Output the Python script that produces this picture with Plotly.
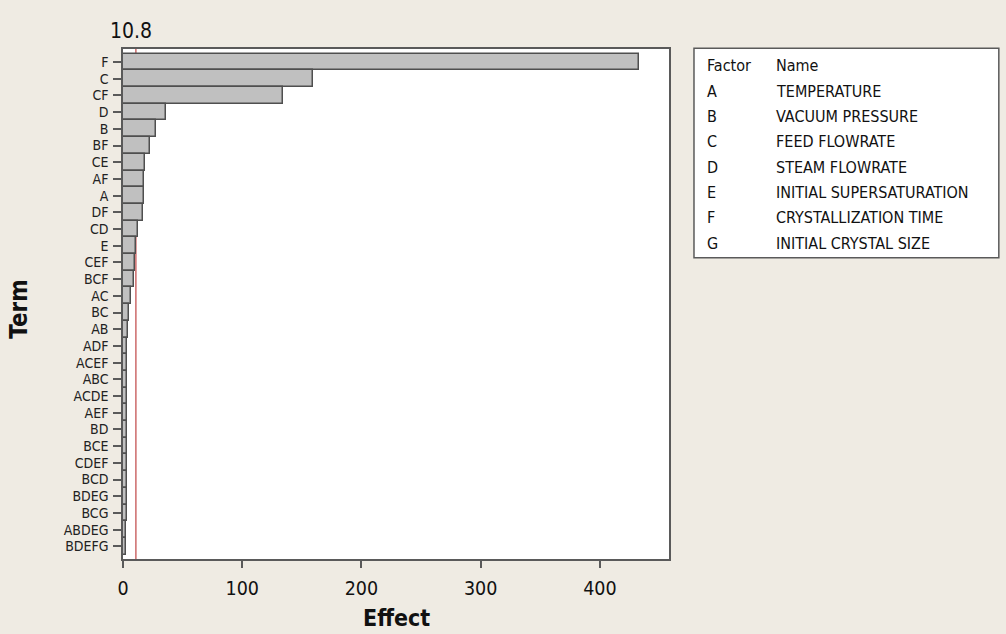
import plotly.graph_objects as go

# ---- data ----
terms = ["F", "C", "CF", "D", "B", "BF", "CE", "AF", "A", "DF", "CD", "E", "CEF", "BCF",
         "AC", "BC", "AB", "ADF", "ACEF", "ABC", "ACDE", "AEF", "BD", "BCE", "CDEF", "BCD",
         "BDEG", "BCG", "ABDEG", "BDEFG"]
effects = [433.2, 159.0, 133.8, 36.1, 27.6, 22.9, 18.2, 17.8, 17.5, 17.1, 12.8, 11.0, 10.1, 8.9,
           6.7, 5.3, 3.9, 3.7, 3.6, 3.5, 3.4, 3.4, 3.3, 3.2, 3.1, 3.1, 3.0, 3.0, 2.9, 2.9]
reference_value = 10.8
x_ticks = [0, 100, 200, 300, 400]

factors = ["A", "B", "C", "D", "E", "F", "G"]
factor_names = ["TEMPERATURE", "VACUUM PRESSURE", "FEED FLOWRATE", "STEAM FLOWRATE",
                "INITIAL SUPERSATURATION", "CRYSTALLIZATION TIME", "INITIAL CRYSTAL SIZE"]

# ---- layout geometry (pixels) ----
W, H = 1006, 634
L, R, T, B = 122.7, 669.0, 49.0, 559.0

def px(xp):
    return (xp - L) / (R - L)

def py(yp):
    return (B - yp) / (B - T)

FONT = "DejaVu Sans Condensed, DejaVu Sans, sans-serif"
BG = "#efebe3"
FRAME = "#5a5a5a"
TXT = "#111111"

fig = go.Figure()
fig.add_trace(go.Bar(
    x=effects, y=terms, orientation="h",
    width=1.0,
    marker=dict(color="#c0c0c0", line=dict(color="#4f4f4f", width=1.5)),
    hoverinfo="x+y",
))

fig.add_shape(type="line", xref="x", yref="paper", x0=reference_value, x1=reference_value,
              y0=0, y1=1, line=dict(color="#cc6a6a", width=1.5), layer="below")

annotations = [
    dict(text="Term", x=px(18.3), y=py(309), xref="paper", yref="paper", textangle=-90,
         showarrow=False, xanchor="center", yanchor="middle",
         font=dict(family=FONT, size=24, color=TXT, weight="bold")),
    dict(text="Effect", x=px(396.5), y=py(633), xref="paper", yref="paper",
         showarrow=False, xanchor="center", yanchor="bottom",
         font=dict(family=FONT, size=23, color=TXT, weight="bold")),
    dict(text=str(reference_value), x=px(131), y=py(30.6), xref="paper", yref="paper",
         showarrow=False, xanchor="center", yanchor="middle",
         font=dict(family=FONT, size=21, color=TXT)),
]

LEG_SIZE = 16
row_y = [65.7 + 25.37 * i for i in range(8)]
annotations.append(dict(text="Factor", x=px(705), y=py(row_y[0]), xref="paper", yref="paper",
                        showarrow=False, xanchor="left", yanchor="middle",
                        font=dict(family=FONT, size=LEG_SIZE, color=TXT)))
annotations.append(dict(text="Name", x=px(774), y=py(row_y[0]), xref="paper", yref="paper",
                        showarrow=False, xanchor="left", yanchor="middle",
                        font=dict(family=FONT, size=LEG_SIZE, color=TXT)))
for i, (f, n) in enumerate(zip(factors, factor_names)):
    annotations.append(dict(text=f, x=px(705), y=py(row_y[i + 1]), xref="paper", yref="paper",
                            showarrow=False, xanchor="left", yanchor="middle",
                            font=dict(family=FONT, size=LEG_SIZE, color=TXT)))
    annotations.append(dict(text=n, x=px(774), y=py(row_y[i + 1]), xref="paper", yref="paper",
                            showarrow=False, xanchor="left", yanchor="middle",
                            font=dict(family=FONT, size=LEG_SIZE, color=TXT)))

fig.add_shape(type="rect", xref="paper", yref="paper",
              x0=px(694), x1=px(999), y0=py(257.7), y1=py(48.3),
              line=dict(color=FRAME, width=1.5), fillcolor="white", layer="below")

fig.update_layout(
    width=W, height=H,
    margin=dict(l=L, r=W - R, t=T, b=H - B, pad=0),
    paper_bgcolor=BG, plot_bgcolor="white",
    showlegend=False,
    bargap=0,
    annotations=annotations,
    font=dict(family=FONT, color=TXT),
)
fig.update_xaxes(
    range=[0, 458], tickmode="array", tickvals=x_ticks, ticktext=[str(v) for v in x_ticks],
    showgrid=False, zeroline=False,
    showline=True, mirror=True, linecolor=FRAME, linewidth=1.5,
    ticks="outside", ticklen=7, tickwidth=1.5, tickcolor=FRAME,
    ticklabelstandoff=4,
    tickfont=dict(family=FONT, size=19.5, color=TXT),
)
fig.update_yaxes(
    type="category", categoryorder="array", categoryarray=terms,
    tickmode="array", tickvals=terms, ticktext=terms,
    range=[29.76, -0.78],
    showgrid=False, zeroline=False,
    showline=True, mirror=True, linecolor=FRAME, linewidth=1.5,
    ticks="outside", ticklen=8, tickwidth=1.5, tickcolor=FRAME,
    ticklabelstandoff=2,
    tickfont=dict(family=FONT, size=14, color="#222222"),
)

fig.write_html(
    "out.html",
    config={"displayModeBar": False},
    post_script="document.body.style.margin='0px';document.body.style.backgroundColor='" + BG + "';",
)
